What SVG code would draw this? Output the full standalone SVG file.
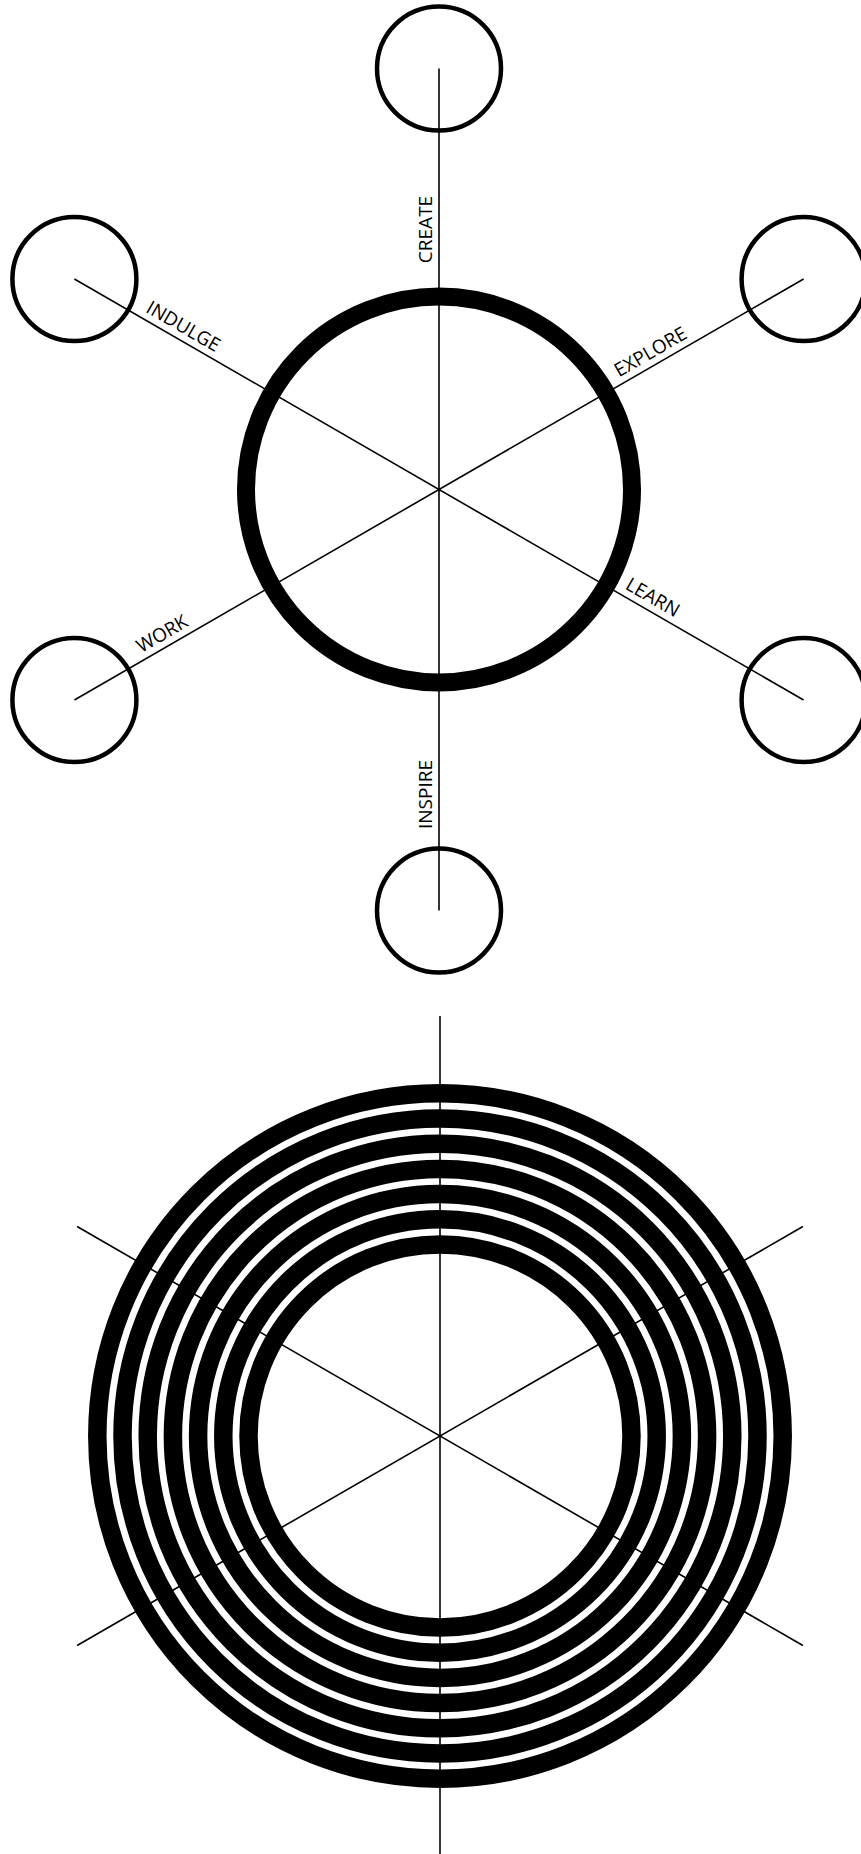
<svg xmlns="http://www.w3.org/2000/svg" width="861" height="1854" viewBox="0 0 861 1854">
<style>
.bg{fill:#fff}
.spoke{stroke:#000;stroke-width:1.6;fill:none}
.node{fill:none;stroke:#000;stroke-width:4.5}
.hub{fill:none;stroke:#000;stroke-width:18}
.ring{fill:none;stroke:#000;stroke-width:18.5}
.lbl{font-family:"Open Sans","DejaVu Sans",sans-serif;font-size:19px;fill:#000;text-anchor:middle}
</style>
<rect class="bg" x="0" y="0" width="861" height="1854"/>
<g id="connectors">
<line class="spoke" x1="439" y1="68.5" x2="439" y2="910.5"/>
<line class="spoke" x1="74.4" y1="279" x2="803.6" y2="700"/>
<line class="spoke" x1="74.4" y1="700" x2="803.6" y2="279"/>
<line class="spoke" x1="440" y1="1016" x2="440" y2="1858"/>
<line class="spoke" x1="77.1" y1="1226.5" x2="802.9" y2="1645.5"/>
<line class="spoke" x1="77.1" y1="1645.5" x2="802.9" y2="1226.5"/>
</g>
<g id="hub"><circle class="hub" cx="439" cy="489.5" r="193"/></g>
<g id="node-create"><circle class="node" cx="439" cy="68.5" r="62"/></g>
<g id="node-inspire"><circle class="node" cx="439" cy="910.5" r="62"/></g>
<g id="node-indulge"><circle class="node" cx="74.4" cy="279" r="62"/></g>
<g id="node-explore"><circle class="node" cx="803.6" cy="279" r="62"/></g>
<g id="node-work"><circle class="node" cx="74.4" cy="700" r="62"/></g>
<g id="node-learn"><circle class="node" cx="803.6" cy="700" r="62"/></g>
<g id="labels">
<text class="lbl" transform="translate(439,229.5) rotate(-90)" x="0" y="-7">CREATE</text>
<text class="lbl" transform="translate(439,794.5) rotate(-90)" x="0" y="-7">INSPIRE</text>
<text class="lbl" transform="translate(176.6,338) rotate(30)" x="0" y="-7">INDULGE</text>
<text class="lbl" transform="translate(657.2,363.5) rotate(-30)" x="0" y="-7">EXPLORE</text>
<text class="lbl" transform="translate(168.8,645.5) rotate(-30)" x="0" y="-7">WORK</text>
<text class="lbl" transform="translate(646,609) rotate(30)" x="0" y="-7">LEARN</text>
</g>
<g id="rings">
<circle class="ring" cx="440" cy="1436" r="191.5"/>
<circle class="ring" cx="440" cy="1436" r="216.7"/>
<circle class="ring" cx="440" cy="1436" r="241.9"/>
<circle class="ring" cx="440" cy="1436" r="267.1"/>
<circle class="ring" cx="440" cy="1436" r="292.3"/>
<circle class="ring" cx="440" cy="1436" r="317.5"/>
<circle class="ring" cx="440" cy="1436" r="342.7"/>
</g>
</svg>
